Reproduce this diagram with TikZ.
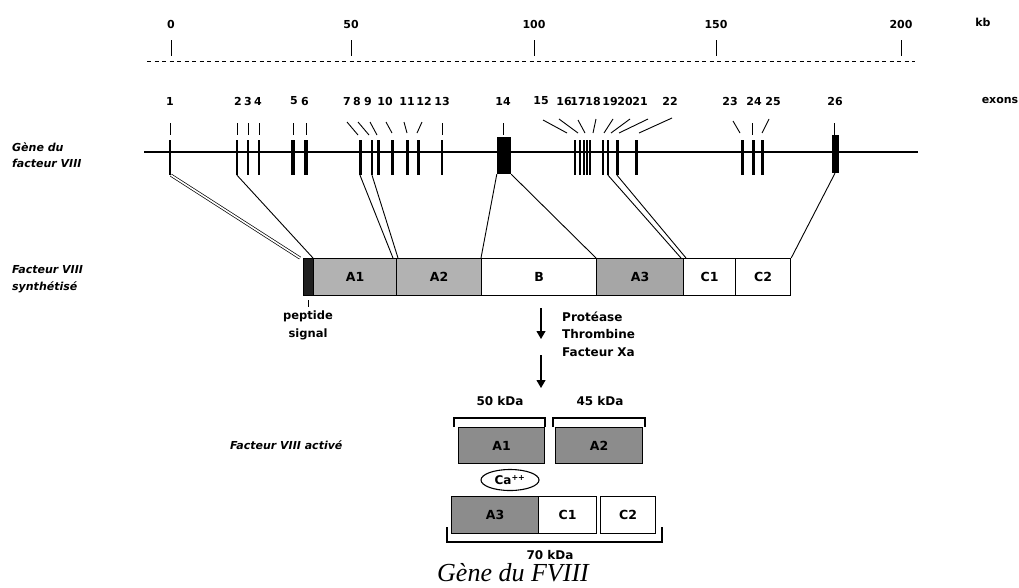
\documentclass[tikz,border=0pt]{standalone}
\usepackage{fontspec}
\setmainfont{DejaVu Sans}
\newfontfamily\capfont{Liberation Serif}
\usetikzlibrary{shapes.geometric,arrows.meta}
\begin{document}
\begin{tikzpicture}[x=1pt,y=-1pt,
  lab/.style={inner sep=0pt, font=\fontsize{12}{14}\selectfont\bfseries},
  num/.style={inner sep=0pt, font=\fontsize{11}{13}\selectfont\bfseries},
  side/.style={inner sep=0pt, anchor=west, align=left, font=\fontsize{11}{17}\selectfont\bfseries\itshape},
  exon/.style={fill=black, inner sep=0pt, minimum height=35pt},
  dom/.style={draw, line width=1.2pt, minimum height=37pt, inner sep=0pt, anchor=north west, font=\fontsize{12.5}{14}\selectfont\bfseries},
  act/.style={draw, line width=1.2pt, minimum height=36pt, inner sep=0pt, anchor=north west, font=\fontsize{12.5}{14}\selectfont\bfseries},
  link/.style={line width=0.9pt},
  dlink/.style={line width=0.7pt, double, double distance=1.6pt},
  ldr/.style={line width=0.9pt},
  tck/.style={line width=1pt},
  br/.style={line width=1.1pt},
  arr/.style={line width=1.1pt, -{Triangle[length=8pt,width=9pt]}},
  grayA/.style={fill=black!30},
  grayB/.style={fill=black!35},
  grayAct/.style={fill=black!45},
]
\useasboundingbox (0,0) rectangle (1019,587);

% ---- scale ----
\foreach \x/\t in {171/0,351/50,534/100,716/150,901/200}{
  \node[num] (s\t) at (\x,24) {\t};
  \draw[tck] (\x,40) -- (\x,56);
}
\node[num] (kb) at (983,22) {kb};
\draw[line width=0.9pt, dash pattern=on 4pt off 3.5pt] (147,61) -- (915,61);

% ---- exon labels ----
\foreach \n/\x in {1/170,2/238,3/248,4/258,5/294,6/305,7/347,8/357,9/368,10/385,11/407,12/424,13/442,14/503,15/541,16/564,17/578,18/593,19/610,20/625,21/640,22/670,23/730,24/754,25/773,26/835}{
  \node[num] (l\n) at (\x,101) {\n};
}
\node[num] (exons) at (1000,100) {exons};

% leaders
\foreach \x in {170,237,248,259,293,306,442,503,752,834}{
  \draw[ldr] (\x,123) -- (\x,135);
}
\foreach \a/\b/\c/\d in {347/122/358/135,358/122/369/135,370/122/377/135,386/122/392/133,404/122/407/133,422/122/417/133,543/120/567/133,559/119/578/133,578/120/585/133,596/119/593/133,613/119/604/133,630/119/611/133,648/119/619/133,672/118/639/133,733/121/740/133,769/119/762/133}{
  \draw[ldr] (\a,\b) -- (\c,\d);
}

% ---- gene ----
\coordinate (gL) at (144,152);
\coordinate (gR) at (918,152);
\draw[line width=1.4pt] (gL) -- (gR);
\foreach \n/\x/\w in {1/170/2.2,2/237/2.2,3/248/2.6,4/259/2.6,5/293/3.4,6/306/3.4,7/360/3,8/372/2.6,9/378/3,10/392/3,11/407/3,12/418/3,13/442/2.6,15/575/2.8,16/580/2.8,17/584/2.8,17a/587/2.8,18/590/2.8,19/603/2.6,20/608/2.6,21/617/3,22/636/3,23/742/3,24/753/3,25/762/3}{
  \node[exon, minimum width=\w pt] (e\n) at (\x,157.5) {};
}
\node[exon, minimum width=14pt, minimum height=37pt] (e14) at (504,155.5) {};
\node[exon, minimum width=7pt, minimum height=38pt] (e26) at (835,154) {};

% ---- side labels ----
\node[side, font=\fontsize{11}{16}\selectfont\bfseries\itshape] (gene) at (12,155) {Gène du\\facteur VIII};
\node[side] (synth) at (12,279) {Facteur VIII\\synthétisé};
\node[side] (activ) at (230,445) {Facteur VIII activé};

% ---- synthesised protein ----
\node[dom, fill=black!88, minimum width=10pt] (sp) at (303,258) {};
\node[dom, grayA, minimum width=83pt] (A1) at (313,258) {A1};
\node[dom, grayA, minimum width=85pt] (A2) at (396,258) {A2};
\node[dom, minimum width=115pt] (B) at (481,258) {B};
\node[dom, grayB, minimum width=87pt] (A3) at (596,258) {A3};
\node[dom, minimum width=52pt] (C1) at (683,258) {C1};
\node[dom, minimum width=55pt] (C2) at (735,258) {C2};

% gene -> protein
\draw[dlink] ([xshift=1pt]e1.south) -- ([xshift=-3pt]sp.north west);
\draw[link] (e2.south) -- (A1.north west);
\draw[link] (e7.south) -- ([xshift=-3pt]A2.north west);
\draw[link] (e8.south) -- ([xshift=2pt]A2.north west);
\draw[link] (e14.south west) -- (B.north west);
\draw[link] (e14.south east) -- (A3.north west);
\draw[link] (e20.south) -- ([xshift=-2pt]C1.north west);
\draw[link] (e21.south) -- ([xshift=3pt]C1.north west);
\draw[link] (e26.south) -- (C2.north east);

% peptide signal
\coordinate (ps1) at (308,300);
\coordinate (ps2) at (308,307);
\draw[line width=0.8pt] (ps1) -- (ps2);
\node[lab, align=center, font=\fontsize{11.5}{18}\selectfont\bfseries] (pep) at (308,325) {peptide\\signal};

% ---- cleavage ----
\coordinate (r1a) at (541,308);
\coordinate (r1b) at (541,339);
\coordinate (r2a) at (541,355);
\coordinate (r2b) at (541,388);
\draw[arr] (r1a) -- (r1b);
\draw[arr] (r2a) -- (r2b);
\node[lab, anchor=west, align=left, font=\fontsize{12}{17.5}\selectfont\bfseries] (prot) at (562,334) {Protéase\\Thrombine\\Facteur Xa};

% ---- activated factor ----
\node[lab] (k50) at (500,401) {50 kDa};
\node[lab] (k45) at (600,401) {45 kDa};
\draw[br] (454,427) -- (454,418) -- (545,418) -- (545,427);
\draw[br] (553,427) -- (553,418) -- (645,418) -- (645,427);
\node[act, grayAct, minimum width=86pt] (a1) at (458,427) {A1};
\node[act, grayAct, minimum width=87pt] (a2) at (555,427) {A2};
\node[draw, ellipse, line width=1.1pt, minimum width=58pt, minimum height=21pt, inner sep=0pt, font=\fontsize{12}{13}\selectfont\bfseries] (ca) at (510,480) {Ca\textsuperscript{++}};
\node[act, grayAct, minimum width=87pt, minimum height=37pt] (a3) at (451,496) {A3};
\node[act, minimum width=58pt, minimum height=37pt] (c1) at (538,496) {C1};
\node[act, minimum width=55pt, minimum height=37pt] (c2) at (600,496) {C2};
\draw[br] (447,527) -- (447,542) -- (662,542) -- (662,527);
\node[lab] (k70) at (550,555) {70 kDa};

% caption
\node[anchor=base, inner sep=0pt, font=\capfont\itshape\fontsize{26}{30}\selectfont] (cap) at (513,581) {Gène du FVIII};
\end{tikzpicture}
\end{document}
